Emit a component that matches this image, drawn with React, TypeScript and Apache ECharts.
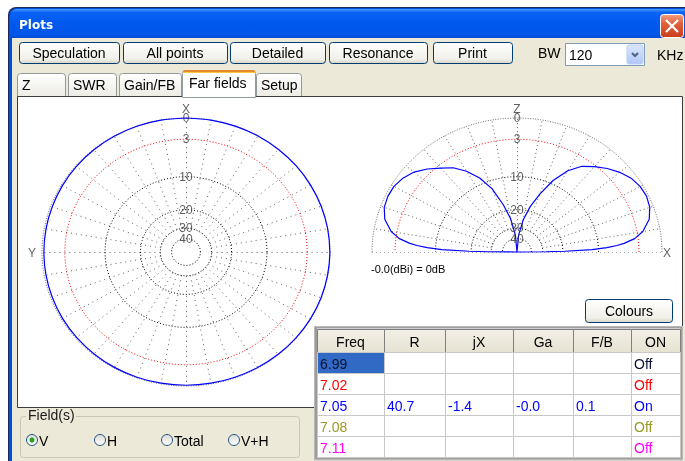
import React, { useEffect, useRef } from 'react';
import * as echarts from 'echarts';

// ---------- DATA ----------
const ringLevels = [0, 3, 10, 20, 30, 40]; // dB below maximum
const ringLabels = ['0', '3', '10', '20', '30', '40'];
const ringColors = ['#6e6e6e', '#ff0000', '#000000', '#000000', '#000000', '#000000'];
const spokeStep = 10; // degrees

// Horizontal (azimuth) pattern, relative gain in dB, every 10° from X counter-clockwise
const azimuthAngles = [0, 10, 20, 30, 40, 50, 60, 70, 80, 90, 100, 110, 120, 130, 140, 150, 160, 170,
  180, 190, 200, 210, 220, 230, 240, 250, 260, 270, 280, 290, 300, 310, 320, 330, 340, 350];
const azimuthGain = [0, 0, -0.02, -0.05, -0.08, -0.12, -0.16, -0.2, -0.22, -0.23, -0.22, -0.2, -0.17,
  -0.14, -0.12, -0.1, -0.1, -0.1, -0.1, -0.1, -0.1, -0.08, -0.06, -0.05, -0.04, -0.03, -0.03, -0.02,
  -0.02, -0.02, -0.02, -0.01, -0.01, 0, 0, 0];

// Vertical (elevation) pattern, angle from +X horizon in degrees, relative gain in dB
const elevAngles = [0, 0.5, 1, 2, 3, 4, 5, 7, 10, 15, 20, 25, 30, 35, 40, 45, 50, 55, 60, 65, 70, 75, 80,
  85, 90, 95, 100, 105, 110, 115, 120, 125, 130, 135, 140, 145, 150, 155, 160, 165, 170, 173, 175, 176,
  177, 178, 179, 179.5, 180];
const elevGain = [-99, -28, -19.3, -11.4, -8.3, -6.4, -5.2, -3.5, -2.2, -1.0, -0.45, -0.25, -0.35, -0.7,
  -1.35, -2.2, -3.2, -4.3, -6.2, -9.2, -13.5, -18.2, -24.8, -36, -99, -36, -24, -17.5, -12, -8.6, -6.3,
  -4.6, -3.5, -2.3, -1.3, -0.7, -0.35, -0.3, -0.45, -1.0, -2.2, -3.5, -5.2, -6.4, -8.3, -11.4, -19.3, -28, -99];

// Table
const tableHeaders = ['Freq', 'R', 'jX', 'Ga', 'F/B', 'ON'];
const freqs = ['6.99', '7.02', '7.05', '7.08', '7.11'];
const colR = ['', '', '40.7', '', ''];
const colJX = ['', '', '-1.4', '', ''];
const colGa = ['', '', '-0.0', '', ''];
const colFB = ['', '', '0.1', '', ''];
const colOn = ['Off', 'Off', 'On', 'Off', 'Off'];
const rowColors = ['#0a1030', '#ff0000', '#0000ff', '#999926', '#ff00ff'];

const buttons = ['Speculation', 'All points', 'Detailed', 'Resonance', 'Print'];
const tabs = ['Z', 'SWR', 'Gain/FB', 'Far fields', 'Setup'];
const fields = ['V', 'H', 'Total', 'V+H'];

// ---------- HELPERS ----------
const DEG = Math.PI / 180;
const rOfLevel = (L: number) => Math.pow(10, -L / 40);
const rOfGain = (g: number) => (g <= -60 ? 0 : Math.pow(10, g / 40));
const FONT = '"Liberation Sans", Arial, sans-serif';

function txt(x: number, y: number, text: string, o: any = {}) {
  return {
    type: 'text', x, y, silent: true, z: o.z ?? 1.5,
    style: {
      text,
      font: `${o.bold ? 'bold ' : ''}${o.size || 14}px ${o.family || FONT}`,
      fill: o.color || '#000',
      textAlign: o.align || 'left',
      textVerticalAlign: 'middle',
    },
  };
}
function rect(x: number, y: number, w: number, h: number, style: any, r: any = 0, z = 0.5) {
  return { type: 'rect', silent: true, z, shape: { x, y, width: w, height: h, r }, style };
}
const vgrad = (stops: [number, string][]) =>
  new echarts.graphic.LinearGradient(0, 0, 0, 1, stops.map(([offset, color]) => ({ offset, color })));

function buildGraphic() {
  const g: any[] = [];
  const beige = '#ece9d8';
  g.push(rect(0, 0, 685, 461, { fill: '#ffffff' }, 0, 0));
  // window frame
  g.push(rect(8, 7, 690, 460, { fill: '#1e2a5a' }, [8, 8, 0, 0], 0.05));
  g.push(rect(9, 8, 690, 460, { fill: '#0050e0' }, [8, 8, 0, 0], 0.1));
  g.push(rect(10, 9, 690, 29, {
    fill: vgrad([[0, '#4a9bff'], [0.12, '#0a63f5'], [0.5, '#0058ee'], [0.9, '#0056e8'], [1, '#0049d2']]),
  }, [7, 7, 0, 0], 0.15));
  g.push(rect(12, 38, 680, 430, { fill: beige }, 0, 0.2));
  g.push(txt(19, 25, 'Plots', { bold: true, size: 12, color: '#ffffff', family: '"DejaVu Sans", sans-serif' }));
  // close button
  g.push(rect(660.5, 14.5, 23, 23, {
    fill: vgrad([[0, '#f0a080'], [0.4, '#e0603a'], [1, '#c8401c']]), stroke: '#ffffff', lineWidth: 1,
  }, 3, 0.3));
  g.push({ type: 'line', silent: true, z: 0.35, shape: { x1: 666, y1: 20, x2: 678, y2: 32 }, style: { stroke: '#fff', lineWidth: 2.2 } });
  g.push({ type: 'line', silent: true, z: 0.35, shape: { x1: 678, y1: 20, x2: 666, y2: 32 }, style: { stroke: '#fff', lineWidth: 2.2 } });

  // toolbar buttons
  const bx = [[19, 119], [123, 227], [230, 325], [329, 427], [433, 512]];
  const btnFill = vgrad([[0, '#ffffff'], [0.8, '#f0efe8'], [1, '#d8d3c6']]);
  buttons.forEach((b, i) => {
    const [x0, x1] = bx[i];
    g.push(rect(x0 + 0.5, 42.5, x1 - x0, 21, { fill: btnFill, stroke: '#003c74', lineWidth: 1 }, 3, 0.3));
    g.push(txt((x0 + x1) / 2, 53, b, { align: 'center' }));
  });
  g.push(txt(538, 53, 'BW'));
  g.push(rect(565.5, 43.5, 79, 22, { fill: '#ffffff', stroke: '#7f9db9', lineWidth: 1 }, 0, 0.3));
  g.push(txt(569, 55, '120'));
  g.push(rect(627, 45, 16, 19, { fill: vgrad([[0, '#dce7fd'], [1, '#b0c6f6']]), stroke: '#b9cdf6', lineWidth: 1 }, 2, 0.35));
  g.push({ type: 'polyline', silent: true, z: 0.4, shape: { points: [[632, 53], [635, 56], [638, 53]] }, style: { stroke: '#4d6185', lineWidth: 2, fill: 'none' } });
  g.push(txt(657, 55, 'KHz'));

  // tabs
  const tx = [[17, 66], [68, 117], [119, 182], [182, 256], [256, 302]];
  const tabFill = vgrad([[0, '#ffffff'], [1, '#ecebe4']]);
  tabs.forEach((t, i) => {
    const [x0, x1] = tx[i];
    if (i === 3) return;
    g.push(rect(x0 + 0.5, 73.5, x1 - x0 - 1, 24, { fill: tabFill, stroke: '#919b9c', lineWidth: 1 }, [3, 3, 0, 0], 0.3));
    g.push(txt(x0 + 5, 85, t));
  });

  // main white panel
  g.push(rect(17.5, 96.5, 665, 311, { fill: '#ffffff', stroke: '#3c3c3c', lineWidth: 1 }, 0, 0.4));
  // selected tab
  {
    const [x0, x1] = tx[3];
    g.push(rect(x0 + 0.5, 70.5, x1 - x0 - 1, 27, { fill: '#ffffff', stroke: '#919b9c', lineWidth: 1 }, [3, 3, 0, 0], 0.45));
    g.push(rect(x0 + 1, 70, x1 - x0 - 2, 2, { fill: '#e68b2c' }, [2, 2, 0, 0], 0.5));
    g.push(rect(x0 + 1, 72, x1 - x0 - 2, 1, { fill: '#ffc73c' }, 0, 0.5));
    g.push(txt(x0 + 7, 83, tabs[3]));
  }

  // dBi text
  g.push(txt(371, 269, '-0.0(dBi) = 0dB', { size: 11 }));

  // Colours button
  g.push(rect(585.5, 299.5, 87, 23, { fill: btnFill, stroke: '#003c74', lineWidth: 1 }, 3, 0.5));
  g.push(txt(629, 311, 'Colours', { align: 'center' }));

  // table
  const colX = [317, 384, 445, 513, 573, 631, 680];
  const rowY = [329, 352, 373, 394, 415, 436, 457];
  g.push(rect(314, 326, 369, 135, { fill: '#d4d0c8' }, 0, 0.6));
  g.push(rect(315.5, 327.5, 366, 131, { fill: '#ffffff', stroke: '#a0a0a0', lineWidth: 2 }, 0, 0.62));
  const cols = [freqs, colR, colJX, colGa, colFB, colOn];
  for (let c = 0; c < 6; c++) {
    const x0 = colX[c], x1 = colX[c + 1];
    g.push(rect(x0 + 0.5, rowY[0] + 0.5, x1 - x0, rowY[1] - rowY[0], {
      fill: vgrad([[0, '#f2f0e6'], [1, '#e6e2d2']]), stroke: '#808080', lineWidth: 1,
    }, 0, 0.65));
    g.push(txt((x0 + x1) / 2, (rowY[0] + rowY[1]) / 2 + 1, tableHeaders[c], { align: 'center' }));
    for (let r = 0; r < 5; r++) {
      const y0 = rowY[r + 1], y1 = rowY[r + 2];
      const sel = r === 0 && c === 0;
      g.push(rect(x0 + 0.5, y0 + 0.5, x1 - x0, y1 - y0, {
        fill: sel ? '#316ac5' : '#ffffff', stroke: '#c8c8c8', lineWidth: 1,
      }, 0, 0.65));
      if (sel) g.push(rect(x0 + 1, y0 + 1, x1 - x0 - 1, y1 - y0 - 1, { fill: '#316ac5' }, 0, 0.7));
      const t = cols[c][r];
      if (t) g.push(txt(x0 + 3, (y0 + y1) / 2 + 1, t, { color: rowColors[r] }));
    }
  }
  g.push(rect(315, 327, 2, 132, { fill: '#9c9c9c' }, 0, 0.75));

  // Field(s) group
  g.push(rect(20.5, 416.5, 279, 41, { fill: 'none', stroke: '#c9c6b4', lineWidth: 1 }, 3, 0.5));
  g.push(rect(26, 408, 50, 14, { fill: '#ece9d8' }, 0, 0.55));
  g.push(txt(28, 415, 'Field(s)', { color: '#1a1a1a' }));
  const rx = [32, 100, 167, 234];
  fields.forEach((f, i) => {
    g.push({
      type: 'circle', silent: true, z: 0.6, shape: { cx: rx[i], cy: 440, r: 5.5 },
      style: { fill: vgrad([[0, '#dcdbd3'], [1, '#ffffff']]), stroke: '#1c5180', lineWidth: 1 },
    });
    if (i === 0) g.push({ type: 'circle', silent: true, z: 0.7, shape: { cx: rx[i], cy: 440, r: 2.5 }, style: { fill: '#21a121' } });
    g.push(txt(rx[i] + 7, 441, f));
  });
  return g;
}

function buildSeries() {
  const series: any[] = [];
  // ----- rings -----
  ringLevels.forEach((L, i) => {
    const r = rOfLevel(L);
    const full: number[][] = [];
    for (let a = 0; a <= 360; a += 2) full.push([r * Math.cos(a * DEG), r * Math.sin(a * DEG)]);
    const half: number[][] = [];
    for (let a = 0; a <= 180; a += 2) half.push([r * Math.cos(a * DEG), r * Math.sin(a * DEG)]);
    const ls = { color: ringColors[i], width: 1, type: i === 0 ? [1, 1.5] : [1, 2] };
    series.push({ type: 'line', xAxisIndex: 0, yAxisIndex: 0, data: full, symbol: 'none', clip: false, silent: true, lineStyle: ls, z: 2 });
    series.push({ type: 'line', xAxisIndex: 1, yAxisIndex: 1, data: half, symbol: 'none', clip: false, silent: true, lineStyle: ls, z: 2 });
  });
  // ----- spokes -----
  const r0 = rOfLevel(30);
  const spokesL: any[] = [];
  for (let a = 0; a < 360; a += spokeStep) {
    spokesL.push({ coords: [[r0 * Math.cos(a * DEG), r0 * Math.sin(a * DEG)], [Math.cos(a * DEG), Math.sin(a * DEG)]] });
  }
  const spokesR: any[] = [];
  for (let a = spokeStep; a < 180; a += spokeStep) {
    spokesR.push({ coords: [[r0 * Math.cos(a * DEG), r0 * Math.sin(a * DEG)], [Math.cos(a * DEG), Math.sin(a * DEG)]] });
  }
  spokesR.push({ coords: [[-1, 0], [1, 0]] });
  const spokeStyle = { color: '#606060', width: 1, type: [1, 4], opacity: 1, curveness: 0 };
  series.push({ type: 'lines', coordinateSystem: 'cartesian2d', xAxisIndex: 0, yAxisIndex: 0, data: spokesL, lineStyle: spokeStyle, silent: true, z: 2 });
  series.push({ type: 'lines', coordinateSystem: 'cartesian2d', xAxisIndex: 1, yAxisIndex: 1, data: spokesR, lineStyle: { ...spokeStyle, type: [1, 3] }, silent: true, z: 2 });

  // ----- patterns -----
  const az = azimuthAngles.map((a, i) => {
    const r = rOfGain(azimuthGain[i]);
    return [-r * Math.sin(a * DEG), r * Math.cos(a * DEG)];
  });
  az.push(az[0]);
  series.push({ type: 'line', xAxisIndex: 0, yAxisIndex: 0, data: az, symbol: 'none', smooth: 0.3, clip: false, silent: true, lineStyle: { color: '#0000ff', width: 1.2 }, z: 4 });
  const el = elevAngles.map((a, i) => {
    const r = rOfGain(elevGain[i]);
    return [r * Math.cos(a * DEG), r * Math.sin(a * DEG)];
  });
  series.push({ type: 'line', xAxisIndex: 1, yAxisIndex: 1, data: el, symbol: 'none', clip: false, silent: true, lineStyle: { color: '#0000ff', width: 1.2 }, z: 4 });

  // ----- labels -----
  const lab = { show: true, position: 'inside', formatter: '{b}', color: '#3a3a3a', fontSize: 12, fontFamily: FONT };
  const ringPts = ringLevels.map((L, i) => ({ name: ringLabels[i], value: [0, rOfLevel(L)] }));
  series.push({
    type: 'scatter', xAxisIndex: 0, yAxisIndex: 0, symbolSize: 0, clip: false, silent: true, z: 6,
    itemStyle: { color: 'transparent' }, label: lab,
    data: [...ringPts,
      { name: 'X', value: [0, 1], label: { offset: [0, -9] } },
      { name: 'Y', value: [-1, 0], label: { offset: [-10, 1] } }],
  });
  series.push({
    type: 'scatter', xAxisIndex: 1, yAxisIndex: 1, symbolSize: 0, clip: false, silent: true, z: 6,
    itemStyle: { color: 'transparent' }, label: lab,
    data: [...ringPts,
      { name: 'Z', value: [0, 1], label: { offset: [0, -9] } },
      { name: 'X', value: [1, 0], label: { offset: [5, 1] } }],
  });
  return series;
}

export default function App() {
  const ref = useRef<HTMLDivElement>(null);
  useEffect(() => {
    const chart = echarts.init(ref.current as HTMLDivElement, null, { renderer: 'svg' });
    chart.setOption({
      animation: false,
      graphic: { elements: buildGraphic() },
      grid: [
        { left: 42, top: 118, width: 288, height: 268 },
        { left: 372, top: 118, width: 290, height: 134 },
      ],
      xAxis: [
        { type: 'value', gridIndex: 0, min: -1, max: 1, show: false },
        { type: 'value', gridIndex: 1, min: -1, max: 1, show: false },
      ],
      yAxis: [
        { type: 'value', gridIndex: 0, min: -1, max: 1, show: false },
        { type: 'value', gridIndex: 1, min: 0, max: 1, show: false },
      ],
      series: buildSeries(),
    });
    return () => chart.dispose();
  }, []);
  return <div ref={ref} style={{ position: 'fixed', left: 0, top: 0, width: 685, height: 461 }} />;
}
